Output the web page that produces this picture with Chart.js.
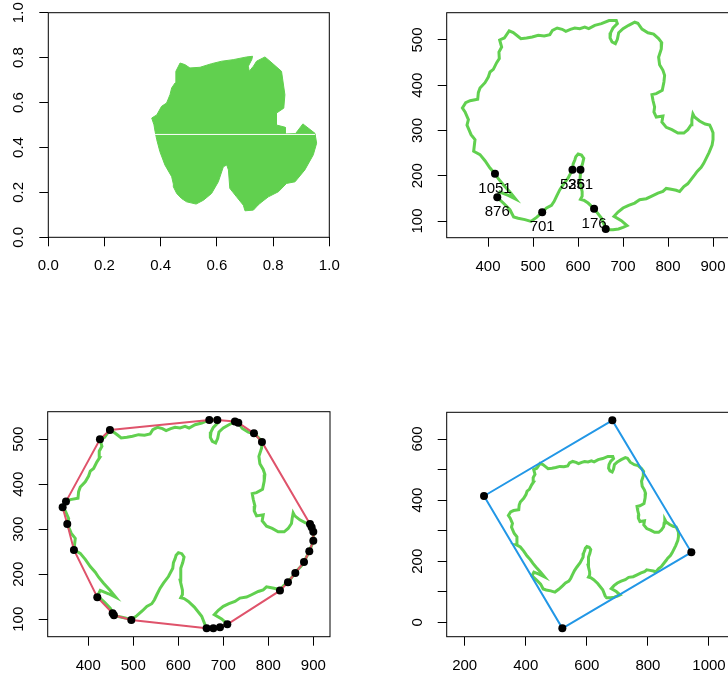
<!DOCTYPE html>
<html><head><meta charset="utf-8">
<script src="https://cdn.jsdelivr.net/npm/chart.js@4/dist/chart.umd.min.js"></script>
<style>
html,body{margin:0;padding:0;background:#fff;width:728px;height:681px;overflow:hidden;position:relative}
canvas{position:absolute;display:block}
</style></head><body>
<canvas id="c1" width="364" height="340" style="left:0px;top:0px"></canvas>
<canvas id="c2" width="372" height="340" style="left:364px;top:0px"></canvas>
<canvas id="c3" width="364" height="341" style="left:0px;top:340px"></canvas>
<canvas id="c4" width="372" height="341" style="left:364px;top:340px"></canvas>
<script>
// ---- Panel 1: leaf pixel mask (normalised coordinates), outline of the filled region
const leafX = [0.368,0.386,0.403,0.421,0.433,0.439,0.451,0.454,0.469,0.486,0.504,0.540,0.581,0.617,0.658,0.706,0.727,0.724,0.712,0.715,0.730,0.741,0.771,0.789,0.830,0.836,0.842,0.838,0.812,0.812,0.843,0.843,0.880,0.906,0.949,0.955,0.943,0.913,0.878,0.848,0.819,0.783,0.753,0.741,0.730,0.700,0.694,0.670,0.646,0.641,0.635,0.623,0.605,0.581,0.552,0.526,0.492,0.474,0.457,0.445,0.445,0.439,0.415,0.397,0.386,0.380,0.376];
const leafY = [0.531,0.545,0.583,0.598,0.635,0.665,0.687,0.739,0.776,0.769,0.754,0.757,0.773,0.784,0.791,0.803,0.806,0.791,0.762,0.739,0.762,0.784,0.803,0.784,0.739,0.687,0.635,0.575,0.553,0.500,0.490,0.460,0.462,0.505,0.463,0.419,0.367,0.300,0.247,0.240,0.203,0.180,0.151,0.136,0.121,0.118,0.143,0.180,0.218,0.300,0.322,0.314,0.247,0.195,0.165,0.148,0.158,0.173,0.195,0.225,0.237,0.270,0.322,0.382,0.434,0.471,0.501];
const gapRowX = [0.380,0.949];
const gapRowY = [0.458,0.458];

// ---- Contour of the leaf (image pixel coordinates), in contour order from point 1
const contourX = [661.6,652.0,635.7,622.4,612.9,605.5,609.2,609.2,604.0,605.5,605.5,609.9,612.8,607.7,600.3,595.1,592.9,589.2,587.7,578.1,567.0,559.6,552.2,547.0,541.1,530.0,520.4,507.9,495.5,482.0,467.0,457.0,448.7,436.2,420.6,426.6,445.0,461.3,448.7,434.0,422.9,415.5,404.4,393.3,382.2,368.1,371.1,362.3,353.3,356.4,349.0,343.1,350.4,360.1,377.1,378.5,382.2,393.3,400.7,404.4,411.8,419.2,425.1,424.3,430.3,425.9,436.2,447.0,456.1,465.7,473.1,485.7,498.2,511.6,524.9,537.4,543.3,553.7,564.8,572.9,583.2,592.8,603.9,615.0,623.9,637.2,652.0,669.0,685.0,687.4,677.8,672.6,671.2,675.6,683.0,687.4,690.4,700.0,712.5,726.0,733.0,742.1,755.4,768.0,779.0,786.0,785.0,779.1,781.3,788.7,792.4,790.9,787.2,773.9,764.3,766.5,770.2,768.7,773.9,788.7,786.4,796.1,808.6,821.9,835.2,844.1,851.5,853.0,855.3,858.9,870.0,882.5,892.6,896.3,900.0,900.0,898.0,891.1,879.3,873.7,864.8,860.0,843.7,835.2,825.9,818.0,807.0,796.0,788.7,777.6,762.8,751.7,736.9,725.9,712.5,700.0,688.9,680.0,696.3,708.9,700.0,690.0,677.8,665.0,661.6];
const contourY = [82.3,106.6,127.2,139.7,146.0,147.9,155.0,164.8,186.9,205.3,213.4,226.0,238.5,245.8,248.0,242.2,234.8,226.0,213.4,195.0,180.3,169.2,154.5,143.4,134.6,128.7,119.1,108.0,99.0,103.0,106.0,109.0,125.0,137.5,152.3,164.1,156.7,148.6,164.1,180.3,193.5,204.6,217.1,233.3,246.6,254.1,279.7,290.8,311.9,323.9,340.9,349.7,361.5,365.9,368.9,383.6,393.9,405.7,418.2,429.3,435.2,449.9,458.8,473.5,484.5,500.0,504.4,520.0,516.2,508.9,503.0,504.4,506.7,510.3,508.9,511.8,521.4,526.5,523.6,519.2,523.6,526.5,525.1,528.7,525.1,532.4,536.1,543.0,543.0,536.1,526.5,516.2,504.4,495.6,491.9,501.5,516.2,525.1,532.4,539.3,537.0,524.0,516.0,513.0,503.0,494.0,480.0,462.0,445.5,433.0,421.9,407.2,388.8,381.4,379.2,366.7,351.9,340.9,329.8,332.0,318.8,307.0,301.8,294.4,294.4,301.8,312.9,323.9,336.5,329.8,321.0,314.3,311.9,304.4,295.0,280.0,268.0,251.1,227.4,218.6,209.7,203.0,182.2,176.0,165.0,168.0,170.0,172.0,165.5,161.8,154.5,149.3,147.1,139.7,134.6,128.7,119.9,110.3,100.7,90.0,86.0,82.5,80.5,80.5,82.3];

// ---- Panel 2: every 175th contour point, with its index
const sampleLabels = ['1','176','351','526','701','876','1051'];
const sampleX = [661.6,635.7,605.5,587.7,520.4,420.6,415.5];
const sampleY = [82.3,127.2,213.4,213.4,119.1,152.3,204.6];

// ---- Panel 3: convex hull vertices
const hullX = [448.1,668.9,686.7,725.9,733.3,768.1,785.9,892.6,896.3,900.0,900.0,891.1,879.3,860.0,843.7,825.9,708.9,692.6,677.8,663.0,495.6,457.0,454.1,420.0,368.1,353.3,343.0,350.4,425.9];
const hullY = [520.7,543.0,543.0,539.3,537.0,513.3,494.1,311.9,304.4,294.8,274.8,251.1,227.4,203.0,182.2,163.7,88.9,82.2,80.0,80.0,98.5,108.9,113.3,148.9,254.1,311.9,348.9,361.5,500.0];

// ---- Panel 4: minimum bounding rectangle corners
const rectX = [263.3,683.5,942.2,519.8];
const rectY = [413.4,661.0,229.1,-19.6];

// ---- Tick values and labels
const unitTicks = [0,0.2,0.4,0.6,0.8,1.0];
const unitTickLabels = ['0.0','0.2','0.4','0.6','0.8','1.0'];
const p2XTicks = [400,500,600,700,800,900];
const p2XLabels = ['400','500','600','700','800','900'];
const p2YTicks = [100,200,300,400,500];
const p2YLabels = ['100','200','300','400','500'];
const p4XTicks = [200,400,600,800,1000];
const p4XLabels = ['200','400','600','800','1000'];
const p4YTicks = [0,100,200,300,400,500,600];
const p4YLabels = ['0','','200','','400','','600'];

const GREEN = '#61D04F', RED = '#DF536B', BLUE = '#2297E6';
const FONT = '15px "Liberation Sans", Arial, Helvetica, sans-serif';
const TL = 9;

const pts = (xs, ys) => xs.map((x, i) => ({x: x, y: ys[i]}));
const closed = (xs, ys) => { const p = pts(xs, ys); p.push(p[0]); return p; };

const framePlugin = {
  id: 'frame',
  afterDraw(chart, args, opts) {
    const ctx = chart.ctx, a = chart.chartArea;
    ctx.save();
    // point labels
    if (opts.pointLabels) {
      ctx.save();
      ctx.beginPath(); ctx.rect(a.left, a.top, a.right - a.left, a.bottom - a.top); ctx.clip();
      ctx.font = FONT; ctx.fillStyle = '#000'; ctx.textAlign = 'center'; ctx.textBaseline = 'middle';
      const pl = opts.pointLabels;
      pl.labels.forEach((t, i) => {
        const px = chart.scales.x.getPixelForValue(pl.xs[i]);
        const py = chart.scales.y.getPixelForValue(pl.ys[i]);
        ctx.fillText(t, px, py + 15);
      });
      ctx.restore();
    }
    // box
    ctx.strokeStyle = '#000'; ctx.lineWidth = 1;
    ctx.strokeRect(a.left, a.top, a.right - a.left, a.bottom - a.top);
    // tick labels
    ctx.font = FONT; ctx.fillStyle = '#000'; ctx.textAlign = 'center'; ctx.textBaseline = 'middle';
    const xs = chart.scales.x, ys = chart.scales.y;
    xs.ticks.forEach((t, i) => {
      const lab = opts.xLabels[i];
      if (lab) ctx.fillText(lab, xs.getPixelForValue(t.value), a.bottom + 29);
    });
    ys.ticks.forEach((t, i) => {
      const lab = opts.yLabels[i];
      if (!lab) return;
      ctx.save();
      ctx.translate(a.left - 29, ys.getPixelForValue(t.value));
      ctx.rotate(-Math.PI / 2);
      ctx.fillText(lab, 0, 0);
      ctx.restore();
    });
    ctx.restore();
  }
};

function axis(min, max, ticks) {
  return {
    type: 'linear', min: min, max: max,
    afterBuildTicks: s => { s.ticks = ticks.map(v => ({value: v})); },
    ticks: {display: false, autoSkip: false},
    grid: {display: true, drawOnChartArea: false, drawTicks: true, tickLength: TL, color: '#000', lineWidth: 1},
    border: {display: false}
  };
}

function makePanel(id, canvasRect, box, xr, yr, xTicks, yTicks, xLabels, yLabels, datasets, extra) {
  const [cl, ct, cw, ch] = canvasRect;
  const [L, T, R, B] = box;
  const pluginOpts = Object.assign({xLabels: xLabels, yLabels: yLabels}, extra || {});
  return new Chart(document.getElementById(id), {
    type: 'line',
    data: {datasets: datasets},
    options: {
      responsive: false, animation: false, devicePixelRatio: 1, events: [],
      layout: {padding: {left: L - cl - TL, top: T - ct, right: cl + cw - R, bottom: ct + ch - B - TL}},
      scales: {x: axis(xr[0], xr[1], xTicks), y: axis(yr[0], yr[1], yTicks)},
      plugins: {legend: {display: false}, tooltip: {enabled: false}, frame: pluginOpts}
    },
    plugins: [framePlugin]
  });
}

const contourDS = (order) => ({
  data: pts(contourX, contourY), borderColor: GREEN, borderWidth: 3, pointRadius: 0,
  fill: false, tension: 0, order: order
});
const dotDS = (xs, ys) => ({
  data: pts(xs, ys), showLine: false, pointRadius: 4, pointBackgroundColor: '#000',
  pointBorderWidth: 0, borderColor: '#000', order: 0
});

// Panel 1
makePanel('c1', [0, 0, 364, 340], [48.3, 12.7, 329.3, 237.3], [0, 1], [0, 1],
  unitTicks, unitTicks, unitTickLabels, unitTickLabels, [
    {data: pts(gapRowX, gapRowY), borderColor: '#fff', borderWidth: 1, pointRadius: 0, fill: false, order: 0},
    {data: closed(leafX, leafY), borderColor: GREEN, borderWidth: 1, backgroundColor: GREEN,
     pointRadius: 0, fill: 'shape', tension: 0, order: 1}
  ]);

// Panel 2
makePanel('c2', [364, 0, 372, 340], [446.7, 12.7, 728.5, 237.7], [308.2, 934.4], [63.1, 560.3],
  p2XTicks, p2YTicks, p2XLabels, p2YLabels, [
    dotDS(sampleX, sampleY),
    contourDS(1)
  ], {pointLabels: {labels: sampleLabels, xs: sampleX, ys: sampleY}});

// Panel 3
makePanel('c3', [0, 340, 364, 341], [47.7, 411.7, 330, 636.7], [309.8, 937.1], [61.3, 561.3],
  p2XTicks, p2YTicks, p2XLabels, p2YLabels, [
    dotDS(hullX, hullY),
    {data: closed(hullX, hullY), borderColor: RED, borderWidth: 2, pointRadius: 0, fill: false, tension: 0, order: 1},
    contourDS(2)
  ]);

// Panel 4
makePanel('c4', [364, 340, 372, 341], [446.7, 412.3, 728.5, 636.7], [141.1, 1063.9], [-47.1, 687.4],
  p4XTicks, p4YTicks, p4XLabels, p4YLabels, [
    dotDS(rectX, rectY),
    {data: closed(rectX, rectY), borderColor: BLUE, borderWidth: 2, pointRadius: 0, fill: false, tension: 0, order: 1},
    contourDS(2)
  ]);
</script>
</body></html>
